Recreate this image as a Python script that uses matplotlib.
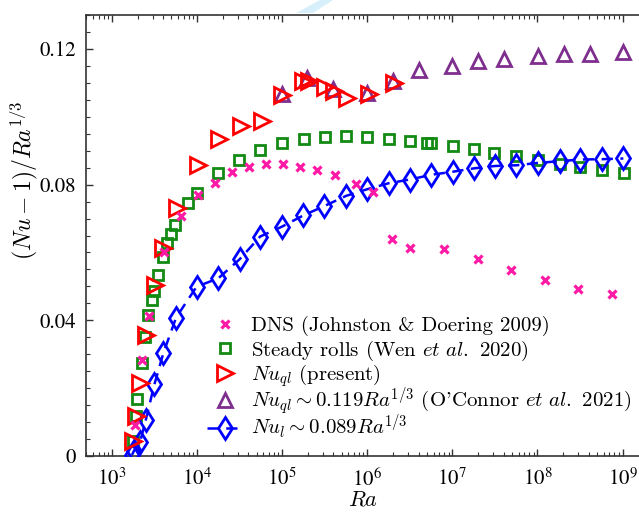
import numpy as np
import matplotlib
matplotlib.use("Agg")
import matplotlib.pyplot as plt
from matplotlib.patches import Polygon
from matplotlib.legend import Legend

plt.rcParams['mathtext.fontset'] = 'cm'
plt.rcParams['font.family'] = 'serif'
plt.rcParams['font.serif'] = ['cmr10']
plt.rcParams['axes.formatter.use_mathtext'] = True

# ---------------- data ----------------
dns_ra = [1866, 2235, 2723, 4093, 6486, 1.028e4, 1.629e4, 2.582e4, 4.092e4, 6.486e4,
          1.028e5, 1.629e5, 2.582e5, 4.205e5, 7.43e5, 1.178e6, 1.968e6, 3.2e6, 8.05e6,
          2.02e7, 4.94e7, 1.24e8, 3.03e8, 7.43e8]
dns_val = [0.0092, 0.0284, 0.0413, 0.0601, 0.0708, 0.0770, 0.0806, 0.0836, 0.0853, 0.0862,
           0.0862, 0.0853, 0.0844, 0.0827, 0.0803, 0.0779, 0.0640, 0.0613, 0.0610,
           0.0581, 0.0548, 0.0519, 0.0492, 0.0477]

rolls_ra = [1781, 1901, 1953, 2235, 2443, 2673, 2980, 3119, 3449, 4013, 4400, 4905, 5510,
            7900, 9920, 1.766e4, 3.119e4, 5.508e4, 1.0e5, 1.781e5, 3.146e5, 5.66e5, 1.0e6,
            1.79e6, 3.2e6, 5.04e6, 5.66e6, 1.008e7, 1.8e7, 3.12e7, 5.66e7, 1.02e8, 1.82e8,
            3.12e8, 5.77e8, 1.03e9]
rolls_val = [0.0045, 0.0118, 0.0168, 0.0274, 0.0351, 0.0415, 0.0459, 0.0486, 0.0533, 0.0586,
             0.0627, 0.0655, 0.0682, 0.0746, 0.0775, 0.0833, 0.0874, 0.0902, 0.0924, 0.0935,
             0.0941, 0.0942, 0.0939, 0.0935, 0.0928, 0.0922, 0.0922, 0.0913, 0.0904, 0.0894,
             0.0884, 0.0874, 0.0862, 0.0853, 0.0842, 0.0834]

nuql_ra = [1781, 1916, 2135, 2477, 3162, 4013, 5770, 1.014e4, 1.828e4, 3.266e4, 5.768e4,
           1.0e5, 1.766e5, 2.078e5, 3.206e5, 4.09e5, 5.768e5, 1.036e6, 2.04e6]
nuql_val = [0.0045, 0.0117, 0.0216, 0.0358, 0.0505, 0.0613, 0.0731, 0.0858, 0.0935, 0.0973,
            0.0989, 0.1064, 0.1105, 0.1106, 0.1087, 0.1076, 0.1056, 0.1068, 0.1101]

oc_ra = [9.92e4, 1.968e5, 3.98e5, 1.0e6, 2.02e6, 4.01e6, 1.0e7, 2.0e7, 4.01e7, 1.008e8,
         2.04e8, 4.09e8, 1.02e9]
oc_val = [0.1067, 0.1114, 0.1083, 0.1071, 0.1105, 0.1138, 0.1151, 0.1164, 0.1169, 0.1179,
          0.1184, 0.1186, 0.1190]

nul_ra = [1719, 1815, 2135, 2489, 3148, 4013, 5662, 9860, 1.781e4, 3.162e4, 5.508e4,
          9.92e4, 1.766e5, 3.137e5, 5.66e5, 9.86e5, 1.78e6, 3.16e6, 5.66e6, 1.01e7,
          1.8e7, 3.2e7, 5.66e7, 1.01e8, 1.82e8, 3.2e8, 5.77e8, 1.02e9]
nul_val = [0.0003, 0.0016, 0.0041, 0.0105, 0.0211, 0.0303, 0.0408, 0.0499, 0.0524, 0.0580,
           0.0647, 0.0676, 0.0709, 0.0737, 0.0767, 0.0786, 0.0804, 0.0815, 0.0829, 0.0838,
           0.0848, 0.0855, 0.0857, 0.0864, 0.0869, 0.0874, 0.0875, 0.0877]

xtick_vals = [1e3, 1e4, 1e5, 1e6, 1e7, 1e8, 1e9]
xtick_labels = [r'$10^{3}$', r'$10^{4}$', r'$10^{5}$', r'$10^{6}$', r'$10^{7}$', r'$10^{8}$', r'$10^{9}$']
ytick_vals = [0, 0.04, 0.08, 0.12]
ytick_labels = ['0', '0.04', '0.08', '0.12']

labels = ['DNS (Johnston & Doering 2009)',
          r'Steady rolls (Wen $\mathit{et\ al.}$ 2020)',
          r'$Nu_{ql}$ (present)',
          r"$Nu_{ql}\sim 0.119Ra^{1/3}$ (O'Connor $\mathit{et\ al.}$ 2021)",
          r'$Nu_{l}\sim 0.089Ra^{1/3}$']

# ---------------- figure ----------------
W, H = 639, 513
fig = plt.figure(figsize=(W/100, H/100), dpi=100)
ax_w_px = (W - 86) + 2
ax = fig.add_axes([86/W, 1-456/H, ax_w_px/W, (456-15)/H])

c_dns = '#ff1aa6'
c_green = '#138a13'
c_red = '#ff0000'
c_purple = '#7e2f8e'
c_blue = '#0000ff'

h_oc, = ax.plot(oc_ra, oc_val, linestyle='none', marker='^', ms=10.5, mfc='none',
                mec=c_purple, color=c_purple, mew=2.0, zorder=2)
h_rolls, = ax.plot(rolls_ra, rolls_val, linestyle='none', marker='s', ms=7.5, mfc='none',
                   mec=c_green, color=c_green, mew=2.0, zorder=3)
h_nul, = ax.plot(nul_ra, nul_val, linestyle=(0, (4.5, 3)), lw=1.8, color=c_blue,
                 marker='d', ms=11.5, mfc='none', mec=c_blue, mew=2.0, zorder=4)
h_nuql, = ax.plot(nuql_ra, nuql_val, linestyle='none', marker='>', ms=11.5, mfc='none',
                  mec=c_red, color=c_red, mew=2.0, zorder=5)
h_dns, = ax.plot(dns_ra, dns_val, linestyle='none', marker='x', ms=6, mec=c_dns,
                 color=c_dns, mew=2.3, zorder=6)

ax.set_xscale('log')
ax.set_xlim(10**(3 - 26/85.1), 10**(3 + (W - 112 + 2)/85.1))
ax.set_ylim(0, 0.13)

ax.set_xticks(xtick_vals)
ax.set_xticklabels(xtick_labels, fontsize=15, math_fontfamily='stix')
ax.xaxis.set_minor_locator(matplotlib.ticker.LogLocator(base=10, subs=np.arange(2, 10), numticks=30))
ax.xaxis.set_minor_formatter(matplotlib.ticker.NullFormatter())
ax.set_yticks(ytick_vals)
ax.set_yticklabels(ytick_labels, fontsize=15, fontfamily='STIXGeneral')
ax.yaxis.set_minor_locator(matplotlib.ticker.MultipleLocator(0.005))

ax.tick_params(which='both', direction='in', top=True, right=False, color='#333333')
ax.tick_params(which='major', length=5, width=1.0)
ax.tick_params(which='minor', length=2.8, width=0.8)
ax.tick_params(axis='x', which='major', pad=8)
ax.tick_params(axis='y', which='major', pad=7)
for s in ['left', 'top', 'bottom']:
    ax.spines[s].set_color('#333333')
    ax.spines[s].set_linewidth(1.2)
ax.spines['right'].set_visible(False)

ax.set_xlabel(r'$Ra$', fontsize=16, labelpad=0)
ax.set_ylabel(r'$(Nu-1)/Ra^{1/3}$', fontsize=17)
ax.yaxis.set_label_coords((40 - 86)/ax_w_px, (456 - 180)/441)

# legend: one entry per row, rows placed at the reference's positions
handles = [h_dns, h_rolls, h_nuql, h_oc, h_nul]
row_px = [326, 350.5, 375.5, 401, 427]
x_anchor = (207 - 86)/ax_w_px
for h, lab, ry in zip(handles, labels, row_px):
    lg = Legend(ax, [h], [lab], loc='center left',
                bbox_to_anchor=(x_anchor, (456 - ry)/441), frameon=False, fontsize=15,
                handlelength=1.75, handletextpad=0.35, borderpad=0.0,
                borderaxespad=0.0, numpoints=1)
    ax.add_artist(lg)

# decorative light stripe above the axes
stripe = Polygon([(296/W, 1-13/H), (313/W, 1-13/H), (333/W, 1.0), (320/W, 1.0)],
                 closed=True, transform=fig.transFigure, facecolor='#d6effb',
                 edgecolor='none', zorder=0)
fig.patches.append(stripe)

fig.savefig('out.png', dpi=100)
